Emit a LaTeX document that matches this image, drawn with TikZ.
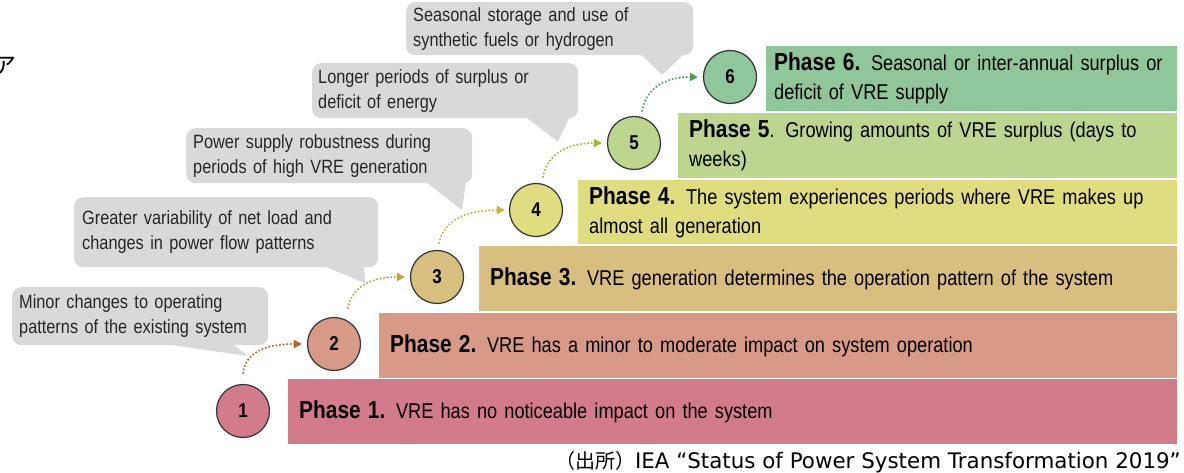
\documentclass[tikz,border=0pt]{standalone}
\usepackage{fontspec}
\setmainfont{Liberation Sans}[FakeStretch=0.85, WordSpace=0.75]
\newfontfamily\srcfont{DejaVu Sans}
\newfontfamily\jpfont{Noto Sans CJK JP}
\usetikzlibrary{arrows.meta,calc}

\definecolor{pone}{HTML}{D27B8B}
\definecolor{ptwo}{HTML}{D69A86}
\definecolor{pthree}{HTML}{D8BF7F}
\definecolor{pfour}{HTML}{E0DD80}
\definecolor{pfive}{HTML}{BDD68F}
\definecolor{psix}{HTML}{90C79A}
\definecolor{aone}{HTML}{B5672F}
\definecolor{atwo}{HTML}{C9A038}
\definecolor{athree}{HTML}{C4B83C}
\definecolor{afour}{HTML}{9DB83F}
\definecolor{afive}{HTML}{4E9E55}
\definecolor{calloutgray}{HTML}{D9D9D9}
\definecolor{circleline}{HTML}{333333}
\definecolor{txt}{HTML}{262626}

\begin{document}
\begin{tikzpicture}[x=1pt,y=-1pt,
  callout/.style={fill=calloutgray, rounded corners=9pt, anchor=north west,
    inner xsep=7pt, inner ysep=0pt, align=left, text=txt,
    font=\fontsize{19.2}{25}\selectfont},
  phasebar/.style={anchor=north west, inner xsep=11pt, inner ysep=0pt,
    align=left, text=black, font=\fontsize{21.4}{29}\selectfont},
  stepcircle/.style={circle, draw=circleline, line width=1.2pt,
    minimum size=53pt, inner sep=0pt, text=black,
    font=\bfseries\fontsize{20}{20}\selectfont},
  flow/.style={line width=2.3pt, dash pattern=on 0pt off 3.6pt, line cap=round,
    -{Triangle[length=8pt,width=8pt]}},
  tail/.style={fill=calloutgray},
]
\newcommand{\ph}[1]{\textbf{\fontsize{24.6}{29}\selectfont #1}}
\useasboundingbox (0,0) rectangle (1184,473);
\clip (0,0) rectangle (1184,473);

% clipped heading character at the left edge
\node[font=\jpfont\fontsize{24}{24}\selectfont, text=black, inner sep=0pt] (frag) at (5,66) {ア};

% phase bars
\node[phasebar, fill=pone, minimum width=889pt, minimum height=65pt, text width=867pt] (b1) at (288,379)
  {\ph{Phase 1.} VRE has no noticeable impact on the system};
\node[phasebar, fill=ptwo, minimum width=798pt, minimum height=65pt, text width=776pt] (b2) at (379,313)
  {\ph{Phase 2.} VRE has a minor to moderate impact on system operation};
\node[phasebar, fill=pthree, minimum width=698pt, minimum height=65pt, text width=676pt] (b3) at (479,246)
  {\ph{Phase 3.} VRE generation determines the operation pattern of the system};
\node[phasebar, fill=pfour, minimum width=599pt, minimum height=64pt, text width=577pt] (b4) at (578,180)
  {\ph{Phase 4.} The system experiences periods where VRE makes up\\almost all generation};
\node[phasebar, fill=pfive, minimum width=499pt, minimum height=65pt, text width=477pt] (b5) at (678,113)
  {\ph{Phase 5}. Growing amounts of VRE surplus (days to\\weeks)};
\node[phasebar, fill=psix, minimum width=411pt, minimum height=65pt, text width=395pt, inner xsep=8pt] (b6) at (766,46)
  {\ph{Phase 6.} Seasonal or inter-annual surplus or\\deficit of VRE supply};

% step circles
\node[stepcircle, fill=pone] (n1) at (243,411) {1};
\node[stepcircle, fill=ptwo] (n2) at (334,344) {2};
\node[stepcircle, fill=pthree] (n3) at (437,277) {3};
\node[stepcircle, fill=pfour] (n4) at (536,210) {4};
\node[stepcircle, fill=pfive] (n5) at (634,143) {5};
\node[stepcircle, fill=psix] (n6) at (730,77) {6};

% callouts
\node[callout, minimum width=256pt, minimum height=58pt, text width=242pt] (c1) at (12,287)
  {Minor changes to operating\\patterns of the existing system};
\node[callout, minimum width=303pt, minimum height=70pt, text width=288pt, inner xsep=8pt] (c2) at (74,197)
  {Greater variability of net load and\\changes in power flow patterns};
\node[callout, minimum width=286pt, minimum height=55pt, text width=272pt] (c3) at (186,128)
  {Power supply robustness during\\periods of high VRE generation};
\node[callout, minimum width=266pt, minimum height=55pt, text width=254pt, inner xsep=6pt] (c4) at (312,63)
  {Longer periods of surplus or\\deficit of energy};
\node[callout, minimum width=287pt, minimum height=53pt, text width=273pt] (c5) at (406,2)
  {Seasonal storage and use of\\synthetic fuels or hydrogen};

% callout pointers
\coordinate (t1) at (248,356);
\coordinate (t2) at (365,283);
\coordinate (t3) at (462,210);
\coordinate (t4) at (558,142);
\coordinate (t5) at (662,75);
\fill[tail] ([xshift=148pt,yshift=2pt]c1.south west) -- (t1) -- ([xshift=220pt,yshift=2pt]c1.south west) -- cycle;
\fill[tail] ([xshift=248pt,yshift=2pt]c2.south west) -- (t2) -- ([xshift=290pt,yshift=2pt]c2.south west) -- cycle;
\fill[tail] ([xshift=239pt,yshift=2pt]c3.south west) -- (t3) -- ([xshift=280pt,yshift=2pt]c3.south west) -- cycle;
\fill[tail] ([xshift=213pt,yshift=2pt]c4.south west) -- (t4) -- ([xshift=258pt,yshift=2pt]c4.south west) -- cycle;
\fill[tail] ([xshift=234pt,yshift=2pt]c5.south west) -- (t5) -- ([xshift=279pt,yshift=2pt]c5.south west) -- cycle;

% dotted step arrows
\draw[flow, aone] ([yshift=11pt]n1.north) .. controls +(3,-20) and +(-38,0) .. ([xshift=-5pt]n2.west);
\draw[flow, atwo] ([xshift=14pt,yshift=9pt]n2.north) .. controls +(4,-20) and +(-36,0) .. ([xshift=-5pt]n3.west);
\draw[flow, athree] ([xshift=2pt,yshift=7pt]n3.north) .. controls +(5,-22) and +(-40,0) .. ([xshift=-4pt]n4.west);
\draw[flow, afour] ([xshift=7pt,yshift=6pt]n4.north) .. controls +(4,-22) and +(-36,0) .. ([xshift=-5pt]n5.west);
\draw[flow, afive] ([xshift=8pt,yshift=5pt]n5.north) .. controls +(4,-22) and +(-34,0) .. ([xshift=-5pt]n6.west);

% source line
\node[anchor=base east, inner sep=0pt, text=black] (src) at (1181,468)
  {\jpfont\fontsize{20}{22}\selectfont（出所）\srcfont\fontsize{21.4}{22}\selectfont IEA “Status of Power System Transformation 2019”};
\end{tikzpicture}
\end{document}
